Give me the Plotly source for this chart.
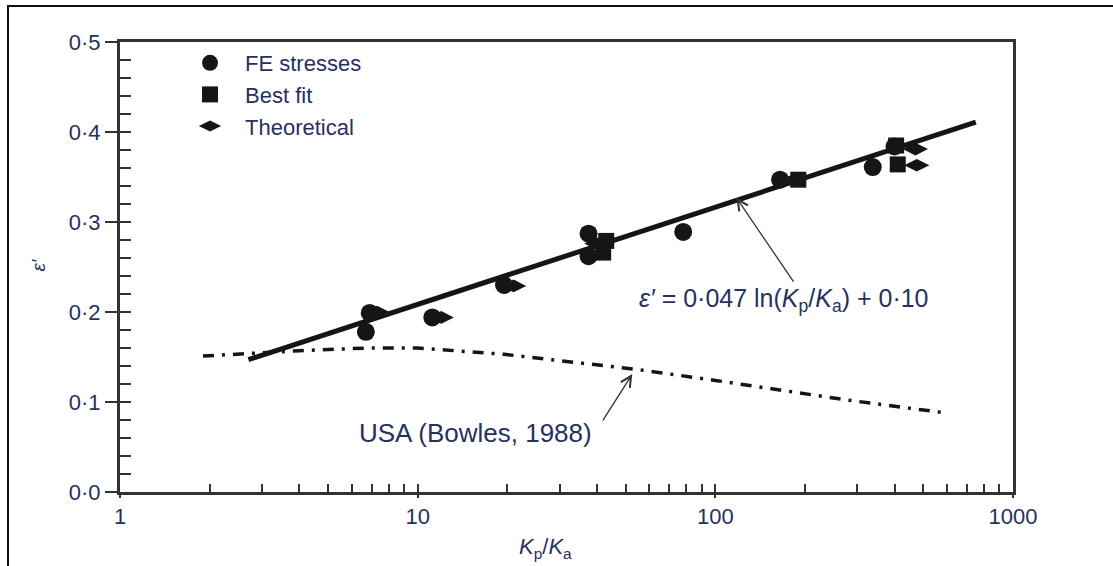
import numpy as np
import plotly.graph_objects as go

# ---- data ----
fe_x = [6.7, 6.9, 11.2, 19.5, 37.5, 37.5, 78, 165, 338, 400]
fe_y = [0.178, 0.199, 0.194, 0.230, 0.287, 0.262, 0.289, 0.347, 0.361, 0.384]

bf_x = [43, 42, 190, 405, 410]
bf_y = [0.279, 0.266, 0.347, 0.385, 0.364]

th_x = [7.3, 12.0, 21.0, 40, 182, 470, 475]
th_y = [0.200, 0.194, 0.229, 0.276, 0.346, 0.381, 0.363]

fit_x = [2.7, 750]
fit_y = [0.147, 0.411]

usa_x = [1.9, 4, 6.8, 10, 19.5, 55, 100, 280, 590]
usa_y = [0.151, 0.157, 0.160, 0.160, 0.153, 0.136, 0.124, 0.102, 0.088]

y_ticks = [0.0, 0.1, 0.2, 0.3, 0.4, 0.5]
y_ticktext = ["0·0", "0·1", "0·2", "0·3", "0·4", "0·5"]
x_ticks = [1, 10, 100, 1000]
x_ticktext = ["1", "10", "100", "1000"]
x_minor = [m * d for d in (1, 10, 100) for m in range(2, 10)]
y_minor = [round(i * 0.02, 2) for i in range(26)]

TXT = "#28305e"
INK = "#151515"
AX = "#333333"
FONT = "Liberation Sans, Arial, sans-serif"

fig = go.Figure()

fig.add_trace(go.Scatter(x=usa_x, y=usa_y, mode="lines", showlegend=False,
                         line=dict(color=INK, width=3.5, dash="11px,8px,3px,8px")))
fig.add_trace(go.Scatter(x=fit_x, y=fit_y, mode="lines", showlegend=False,
                         line=dict(color=INK, width=5)))
fig.add_trace(go.Scatter(x=fe_x, y=fe_y, mode="markers", name="FE stresses", legendgroup="a",
                         marker=dict(symbol="circle", size=18, color=INK)))
fig.add_trace(go.Scatter(x=bf_x, y=bf_y, mode="markers", name="Best fit", legendgroup="b",
                         marker=dict(symbol="square", size=16, color=INK)))
fig.add_trace(go.Scatter(x=th_x, y=th_y, mode="markers", name="Theoretical", legendgroup="c",
                         marker=dict(symbol="diamond-wide", size=18, color=INK)))

# minor tick helper traces on overlay axes
fig.add_trace(go.Scatter(x=[1, 1000], y=[0, 0], xaxis="x2", mode="markers",
                         marker=dict(opacity=0), showlegend=False, hoverinfo="skip"))
fig.add_trace(go.Scatter(x=[1, 1], y=[0, 0.5], yaxis="y2", mode="markers",
                         marker=dict(opacity=0), showlegend=False, hoverinfo="skip"))

def lx(v):
    return float(np.log10(v))

annotations = [
    dict(text="<i>ε′</i> = 0·047 ln(<i>K</i><sub>p</sub>/<i>K</i><sub>a</sub>) + 0·10",
         x=lx(170), y=0.213, xref="x", yref="y", showarrow=False,
         font=dict(size=25, color=TXT, family=FONT)),
    dict(text="", x=lx(117.7), y=0.327, ax=lx(184.5), ay=0.232, xref="x", yref="y",
         axref="x", ayref="y", showarrow=True, arrowhead=5, arrowsize=1.6,
         arrowwidth=1.3, arrowcolor="#333"),
    dict(text="USA (Bowles, 1988)", x=lx(15.7), y=0.066, xref="x", yref="y",
         showarrow=False, font=dict(size=26, color=TXT, family=FONT)),
    dict(text="", x=lx(52.6), y=0.131, ax=lx(41.6), ay=0.078, xref="x", yref="y",
         axref="x", ayref="y", showarrow=True, arrowhead=5, arrowsize=1.6,
         arrowwidth=1.3, arrowcolor="#333"),
    dict(text="<i>ε′</i>", x=-0.105, y=0.505, xref="paper", yref="paper", textangle=-90,
         showarrow=False, font=dict(size=19, color=TXT, family=FONT)),
    dict(text="<i>K</i><sub>p</sub>/<i>K</i><sub>a</sub>", x=0.477, y=-0.125,
         xref="paper", yref="paper", showarrow=False, yanchor="middle",
         font=dict(size=22, color=TXT, family=FONT)),
]

W, H = 1113, 566
L, R, T, B = 120, 1013, 42, 492
pw, ph = R - L, B - T

def px(xp):
    return (xp - L) / pw

def py(yp):
    return (B - yp) / ph

fig.update_layout(
    width=W, height=H,
    margin=dict(l=L, r=W - R, t=T, b=H - B),
    paper_bgcolor="white", plot_bgcolor="white",
    font=dict(family=FONT, color=TXT, size=21),
    xaxis=dict(type="log", range=[0, 3], tickvals=x_ticks, ticktext=x_ticktext,
               ticks="outside", ticklen=3, tickwidth=2, tickcolor=AX,
               showline=True, mirror=True, linecolor=AX, linewidth=3,
               showgrid=False, zeroline=False, tickfont=dict(size=22, color=TXT)),
    xaxis2=dict(type="log", range=[0, 3], overlaying="x", side="bottom",
                tickvals=x_minor + x_ticks, ticks="inside", ticklen=8, tickwidth=2,
                tickcolor=AX, showticklabels=False, showline=False, showgrid=False,
                zeroline=False),
    yaxis=dict(range=[0, 0.5], tickvals=y_ticks, ticktext=y_ticktext,
               ticks="outside", ticklen=12, tickwidth=2, tickcolor=AX,
               showline=True, mirror=True, linecolor=AX, linewidth=3,
               showgrid=False, zeroline=False, tickfont=dict(size=22, color=TXT)),
    yaxis2=dict(range=[0, 0.5], overlaying="y", side="left",
                tickvals=y_minor, ticks="inside", ticklen=11, tickwidth=2,
                tickcolor=AX, showticklabels=False, showline=False, showgrid=False,
                zeroline=False),
    legend=dict(x=px(175), y=py(42), xanchor="left", yanchor="top",
                bgcolor="rgba(0,0,0,0)", font=dict(size=22, color=TXT, family=FONT),
                tracegroupgap=0, traceorder="grouped", itemwidth=60),
    annotations=annotations,
    shapes=[dict(type="rect", xref="paper", yref="paper",
                 x0=px(8), x1=px(1130), y0=py(600), y1=py(6),
                 line=dict(color="#111", width=2), fillcolor="rgba(0,0,0,0)",
                 layer="below")],
)

fig.write_html("out.html")
